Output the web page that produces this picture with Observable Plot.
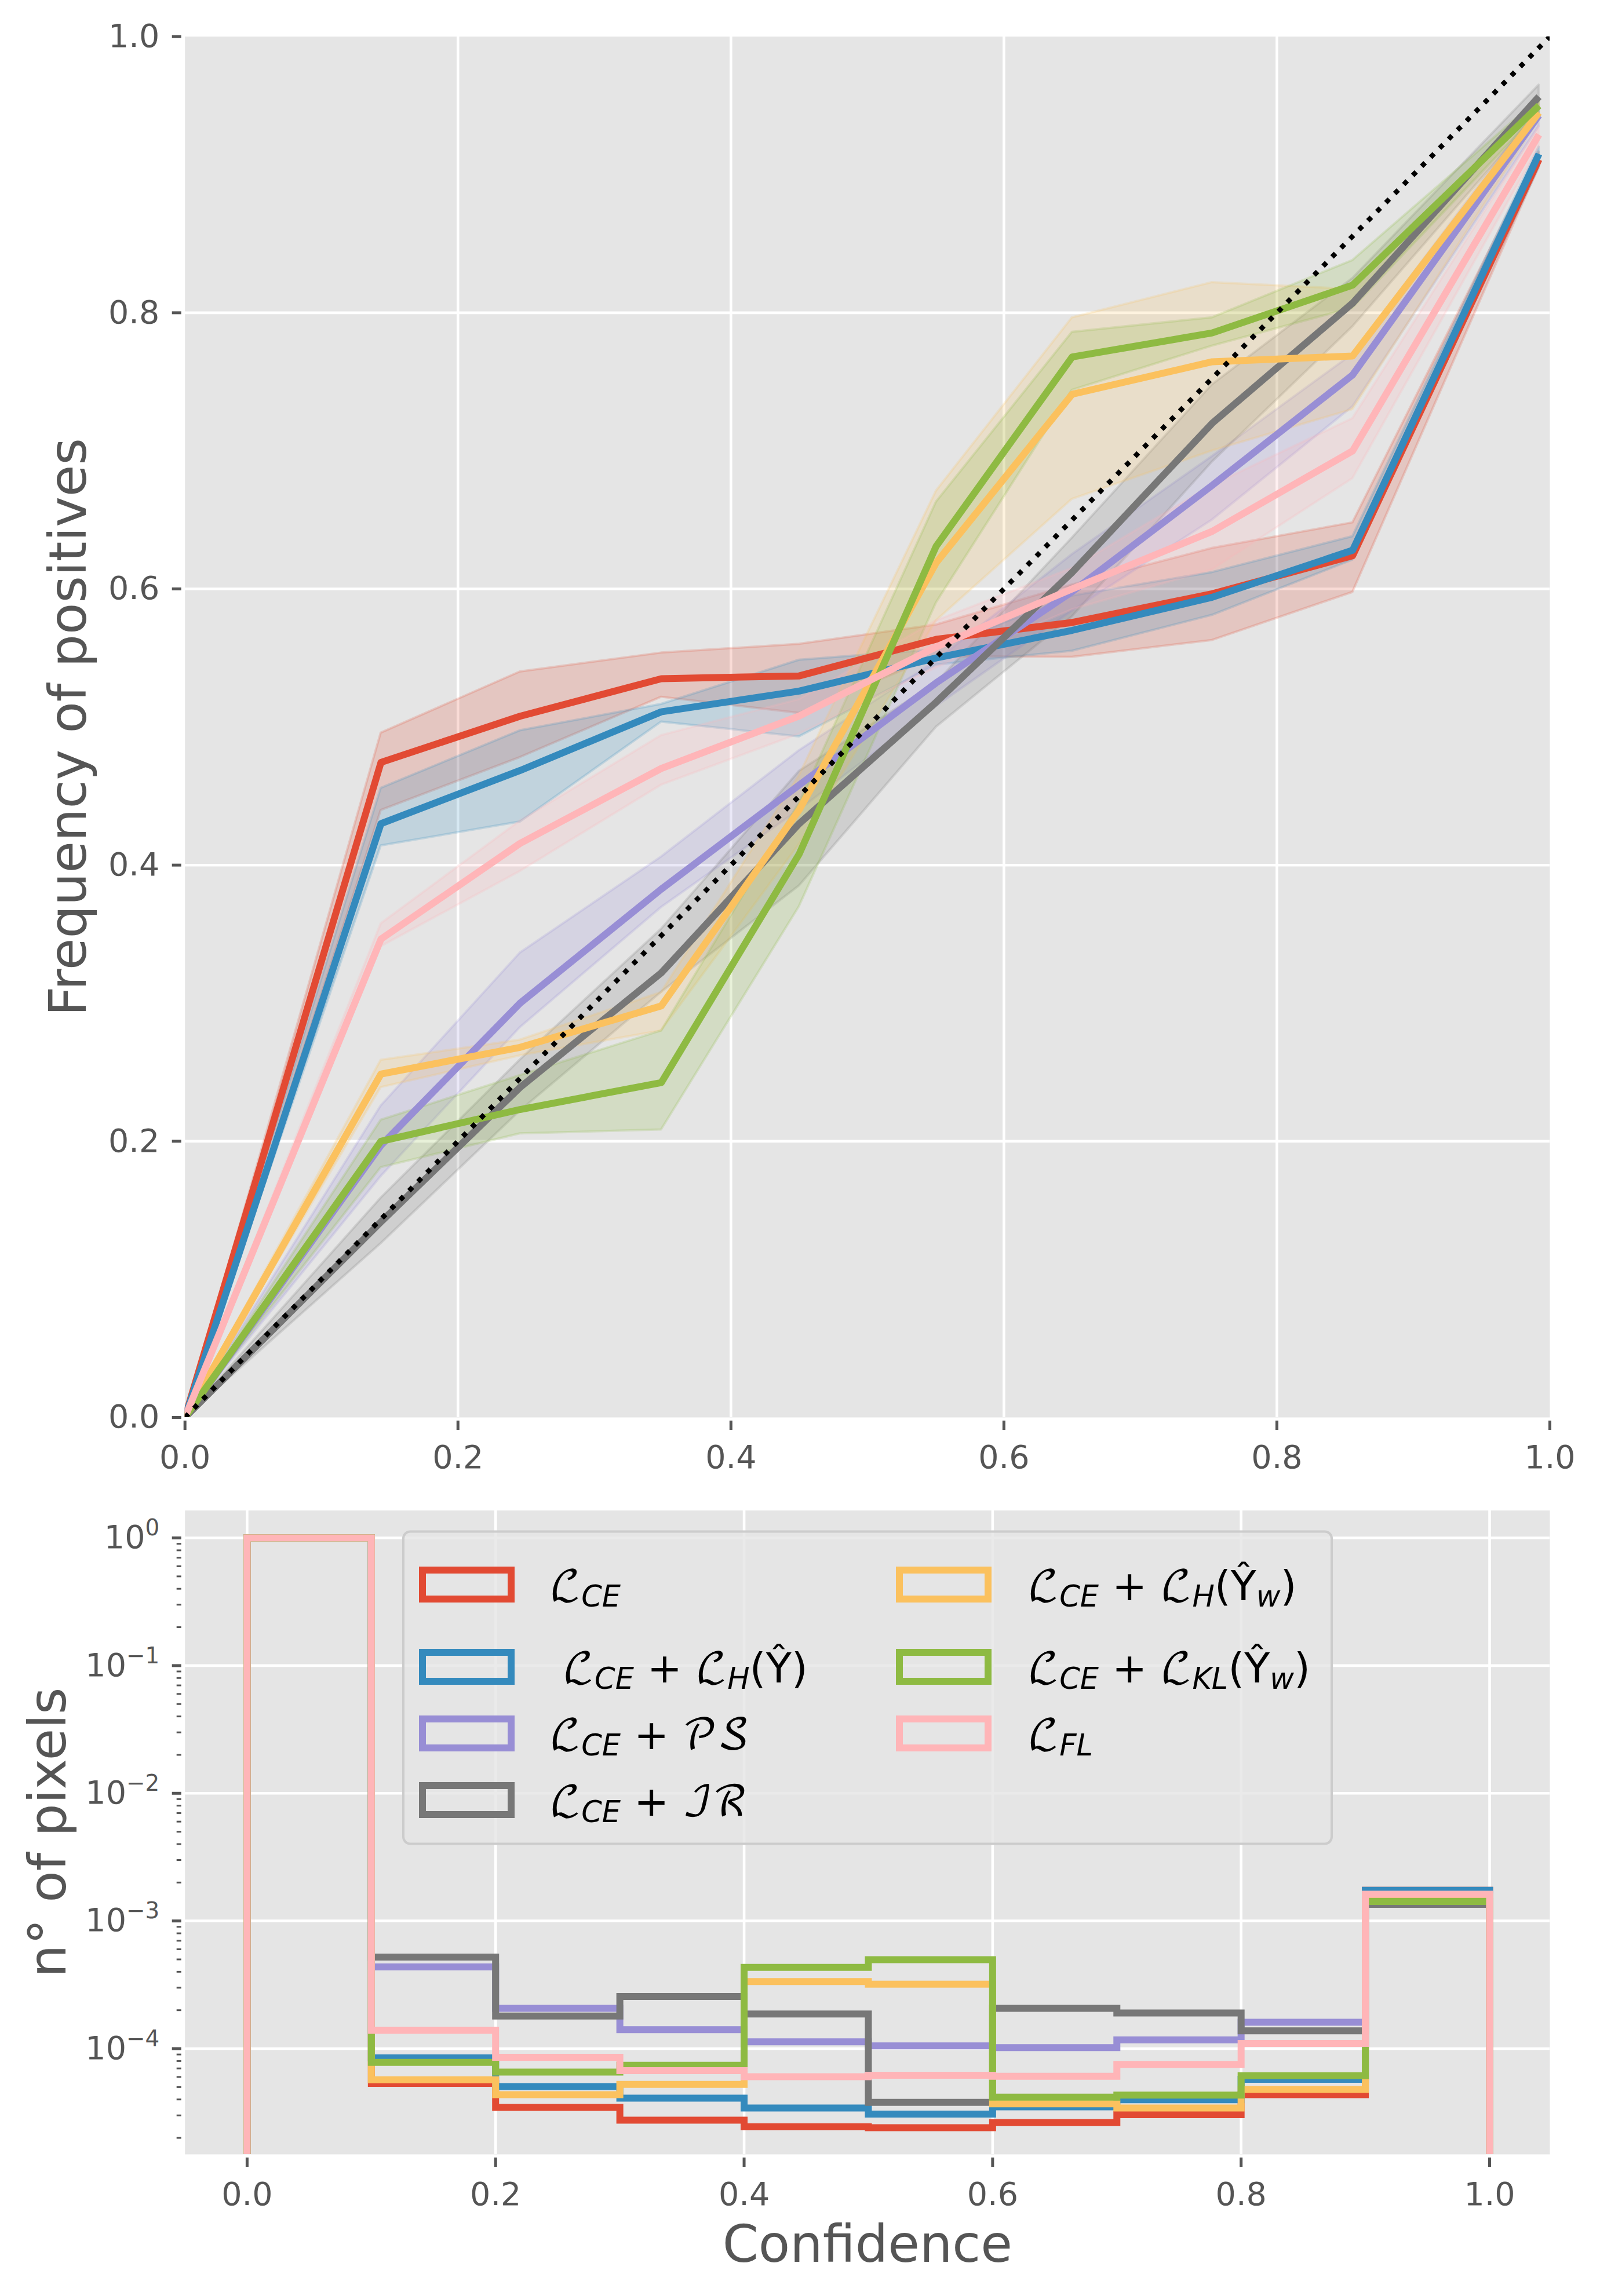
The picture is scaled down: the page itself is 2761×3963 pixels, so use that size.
<!DOCTYPE html>
<html>
<head>
<meta charset="utf-8">
<script src="https://cdn.jsdelivr.net/npm/d3@7"></script>
<script src="https://cdn.jsdelivr.net/npm/@observablehq/plot@0.6"></script>
<style>
html,body{margin:0;padding:0;background:#fff;}
#chart{position:relative;width:2761px;height:3963px;font-family:"DejaVu Sans",sans-serif;}
#chart svg{display:block;}
#legend{position:absolute;left:0;top:0;pointer-events:none;}
</style>
</head>
<body>
<div id="chart"></div>
<script>
// ---------- Reliability diagram ----------
const confidence = [0, 0.1436, 0.2455, 0.349, 0.45, 0.5504, 0.65, 0.7526, 0.8555, 0.992];
const names = ["CE","CE+H","CE+PS","CE+IR","CE+Hw","CE+KLw","FL"];
const colors = ["#E24A33","#348ABD","#988ED5","#777777","#FBC15E","#8EBA42","#FFB5B8"];

const meanCE   = [0, 0.4744, 0.5078, 0.535, 0.537, 0.5635, 0.5757, 0.5965, 0.624, 0.911];
const meanH    = [0, 0.43, 0.4685, 0.511, 0.526, 0.55, 0.57, 0.594, 0.628, 0.915];
const meanPS   = [0, 0.197, 0.3, 0.3826, 0.458, 0.532, 0.598, 0.675, 0.755, 0.943];
const meanIR   = [0, 0.1416, 0.239, 0.322, 0.43, 0.518, 0.612, 0.72, 0.807, 0.9565];
const meanHw   = [0, 0.2487, 0.268, 0.298, 0.44, 0.619, 0.741, 0.7645, 0.7687, 0.945];
const meanKLw  = [0, 0.2, 0.223, 0.2425, 0.408, 0.631, 0.768, 0.7854, 0.82, 0.95];
const meanFL   = [0, 0.3464, 0.4157, 0.47, 0.508, 0.558, 0.6, 0.6417, 0.7, 0.929];

const lowCE  = [0, 0.4397, 0.478, 0.5217, 0.51, 0.551, 0.5506, 0.5628, 0.5976, 0.906];
const highCE = [0, 0.4957, 0.54, 0.5537, 0.56, 0.574, 0.603, 0.6295, 0.648, 0.9165];
const lowH   = [0, 0.414, 0.4313, 0.5037, 0.493, 0.545, 0.555, 0.581, 0.621, 0.905];
const highH  = [0, 0.4557, 0.4974, 0.5165, 0.5485, 0.556, 0.595, 0.612, 0.638, 0.92];
const lowPS  = [0, 0.1746, 0.2824, 0.3694, 0.44, 0.515, 0.584, 0.65, 0.732, 0.935];
const highPS = [0, 0.2257, 0.3364, 0.406, 0.483, 0.548, 0.625, 0.696, 0.77, 0.95];
const lowIR  = [0, 0.126, 0.222, 0.308, 0.385, 0.5, 0.58, 0.692, 0.79, 0.945];
const highIR = [0, 0.159, 0.259, 0.3537, 0.468, 0.532, 0.637, 0.748, 0.825, 0.965];
const lowHw  = [0, 0.239, 0.262, 0.28, 0.415, 0.577, 0.665, 0.7, 0.73, 0.94];
const highHw = [0, 0.2588, 0.2734, 0.3078, 0.465, 0.671, 0.7965, 0.822, 0.817, 0.955];
const lowKLw = [0, 0.181, 0.2055, 0.2083, 0.37, 0.59, 0.744, 0.776, 0.8035, 0.945];
const highKLw= [0, 0.2154, 0.2477, 0.28, 0.445, 0.663, 0.786, 0.7965, 0.838, 0.955];
const lowFL  = [0, 0.341, 0.3955, 0.458, 0.495, 0.543, 0.585, 0.614, 0.68, 0.92];
const highFL = [0, 0.3576, 0.432, 0.4939, 0.52, 0.577, 0.615, 0.675, 0.7235, 0.935];

const diagonal = [0, 1];

// ---------- Histogram of confidence ----------
const binEdges = [0, 0, 0.1, 0.2, 0.3, 0.4, 0.5, 0.6, 0.7, 0.8, 0.9, 1];
const histCE  = [1, 5.34e-5, 3.46e-5, 2.75e-5, 2.44e-5, 2.4e-5, 2.63e-5, 3.04e-5, 4.36e-5, 1.74e-3];
const histH   = [1, 8.47e-5, 5.05e-5, 4.09e-5, 3.43e-5, 3.07e-5, 3.5e-5, 3.98e-5, 5.75e-5, 1.74e-3];
const histPS  = [1, 4.37e-4, 2.07e-4, 1.41e-4, 1.13e-4, 1.05e-4, 1.02e-4, 1.17e-4, 1.61e-4, 1.55e-3];
const histIR  = [1, 5.21e-4, 1.8e-4, 2.56e-4, 1.87e-4, 3.8e-5, 2.07e-4, 1.9e-4, 1.38e-4, 1.35e-3];
const histHw  = [1, 5.7e-5, 4.36e-5, 5.25e-5, 3.35e-4, 3.2e-4, 3.7e-5, 3.43e-5, 4.79e-5, 1.55e-3];
const histKLw = [1, 7.8e-5, 6.55e-5, 7.4e-5, 4.33e-4, 4.97e-4, 4.17e-5, 4.32e-5, 6.14e-5, 1.42e-3];
const histFL  = [1, 1.39e-4, 8.55e-5, 6.73e-5, 6.03e-5, 6.19e-5, 6.08e-5, 7.52e-5, 1.1e-4, 1.62e-3];
const histFloor = 1e-6;

const linearTicks = [0, 0.2, 0.4, 0.6, 0.8, 1];
const innerTicks = [0.2, 0.4, 0.6, 0.8];
const logTicks = [1, 1e-1, 1e-2, 1e-3, 1e-4];
const logLabels = ["10⁰", "10⁻¹", "10⁻²", "10⁻³", "10⁻⁴"];
const logExponents = ["0", "−1", "−2", "−3", "−4"];
const logMinor = [1e-1, 1e-2, 1e-3, 1e-4, 1e-5].flatMap(d => [2,3,4,5,6,7,8,9].map(k => +(k * d).toPrecision(3)));

const means = [meanCE, meanH, meanPS, meanIR, meanHw, meanKLw, meanFL];
const lows  = [lowCE, lowH, lowPS, lowIR, lowHw, lowKLw, lowFL];
const highs = [highCE, highH, highPS, highIR, highHw, highKLw, highFL];
const hists = [histCE, histH, histPS, histIR, histHw, histKLw, histFL];

// ---------- Styles ----------
const FONT = '"DejaVu Sans", sans-serif';
const INK = "#555555", PANEL = "#E5E5E5";
const WIDTH = 2761, TOP_H = 2590, BOTTOM_H = 1373;
const L = 318.7, R = WIDTH - 2674;
const tickFont = 55.5, labelFont = 89, lineW = 12, gridW = 4.6;

const axisCommon = {label: null, color: INK, strokeWidth: 5, tickSize: 16, fontSize: tickFont};
const fmt = d3.format(".1f");

const topTable = means.map((m, s) => confidence.map((x, i) => ({x, y: m[i], lo: lows[s][i], hi: highs[s][i]})));

const topPlot = Plot.plot({
  width: WIDTH, height: TOP_H,
  marginLeft: L, marginRight: R, marginTop: 62.7, marginBottom: TOP_H - 2446,
  style: {fontFamily: FONT, background: "transparent", overflow: "visible"},
  x: {domain: [0, 1]}, y: {domain: [0, 1]},
  marks: [
    Plot.frame({fill: PANEL, stroke: "none"}),
    Plot.gridX(innerTicks, {stroke: "white", strokeOpacity: 1, strokeWidth: gridW}),
    Plot.gridY(innerTicks, {stroke: "white", strokeOpacity: 1, strokeWidth: gridW}),
    ...topTable.map((rows, s) => Plot.areaY(rows, {
      x: "x", y1: "lo", y2: "hi", fill: colors[s], fillOpacity: 0.2,
      stroke: colors[s], strokeOpacity: 0.2, strokeWidth: 4, clip: true
    })),
    ...topTable.map((rows, s) => Plot.line(rows, {
      x: "x", y: "y", stroke: colors[s], strokeWidth: lineW,
      strokeLinecap: "butt", strokeLinejoin: "round", clip: true
    })),
    Plot.line(diagonal, {x: d => d, y: d => d, stroke: "black", strokeWidth: 8.5,
      strokeDasharray: "8.5 13.5", strokeLinecap: "butt", clip: true}),
    Plot.axisX(linearTicks, {...axisCommon, tickFormat: fmt, tickPadding: 26, dy: 6}),
    Plot.axisY(linearTicks, {...axisCommon, tickFormat: fmt, tickPadding: 22, dx: -6}),
    Plot.text(["Frequency of positives"], {
      frameAnchor: "left", rotate: -90, dx: 147 - L, lineAnchor: "bottom",
      fontSize: labelFont, fill: INK, textAnchor: "middle"
    })
  ]
});

const histTable = hists.map(v => {
  const ys = [histFloor, ...v, histFloor];
  return binEdges.map((x, i) => ({x, y: ys[i]}));
});

const bottomPlot = Plot.plot({
  width: WIDTH, height: BOTTOM_H,
  marginLeft: L, marginRight: R, marginTop: 16.7, marginBottom: 245,
  style: {fontFamily: FONT, background: "transparent", overflow: "visible"},
  x: {domain: [-0.05, 1.0485]},
  y: {type: "log", domain: [1.486e-5, 1.64]},
  marks: [
    Plot.frame({fill: PANEL, stroke: "none"}),
    Plot.gridX(linearTicks, {stroke: "white", strokeOpacity: 1, strokeWidth: gridW}),
    Plot.gridY(logTicks, {stroke: "white", strokeOpacity: 1, strokeWidth: gridW}),
    ...histTable.map((rows, s) => Plot.line(rows, {
      x: "x", y: "y", stroke: colors[s], strokeWidth: lineW, curve: "step-after",
      strokeLinecap: "butt", strokeLinejoin: "miter", strokeMiterlimit: 10, clip: true
    })),
    Plot.axisX(linearTicks, {...axisCommon, tickFormat: fmt, tickPadding: 26, dy: 6}),
    Plot.axisY(logTicks, {...axisCommon, tickFormat: d => logLabels[logTicks.indexOf(d)], tickPadding: 22, dx: -6}),
    Plot.axisY(logMinor.filter(d => d >= 1.486e-5 && d <= 1.64), {label: null, color: INK, strokeWidth: 3, tickSize: 8, tickFormat: () => "", dx: -6}),
    Plot.text(["n° of pixels"], {
      frameAnchor: "left", rotate: -90, dx: 112 - L, lineAnchor: "bottom",
      fontSize: labelFont, fill: INK, textAnchor: "middle"
    }),
    Plot.text(["Confidence"], {
      frameAnchor: "bottom", dy: 3903 - 3718, lineAnchor: "bottom",
      fontSize: labelFont, fill: INK, textAnchor: "middle"
    })
  ]
});

// Exponents of the log axis as raised, smaller digits, as in the reference.
d3.select(bottomPlot).selectAll("text").each(function() {
  const el = d3.select(this);
  const spans = el.selectAll("tspan");
  const host = spans.empty() ? el : d3.select(spans.node());
  const k = logLabels.indexOf(host.text());
  if (k < 0) return;
  host.text("10");
  host.append("tspan").attr("font-size", tickFont * 0.7).attr("dy", -22).text(logExponents[k]);
});

const chart = document.getElementById("chart");
chart.appendChild(topPlot);
chart.appendChild(bottomPlot);

// ---------- Legend (overlay on the lower panel) ----------
const MATH = '"DejaVu Math TeX Gyre","DejaVu Sans","DejaVu Serif",sans-serif';
const SANS = '"DejaVu Sans",sans-serif';
const L_ = "ℒ";
// segment kinds: m = script letters, s = subscript, t = upright text
const legendLabels = [
  [[L_,"m"],["CE","s"]],
  [["\u00A0"+L_,"m"],["CE","s"],[" + ","t"],[L_,"m"],["H","s"],["(Ŷ)","t"]],
  [[L_,"m"],["CE","s"],[" + ","t"],["𝒫𝒮","m"]],
  [[L_,"m"],["CE","s"],[" + ","t"],["ℐℛ","m"]],
  [[L_,"m"],["CE","s"],[" + ","t"],[L_,"m"],["H","s"],["(Ŷ","t"],["w","s"],[")","t"]],
  [[L_,"m"],["CE","s"],[" + ","t"],[L_,"m"],["KL","s"],["(Ŷ","t"],["w","s"],[")","t"]],
  [[L_,"m"],["FL","s"]]
];
const rowTop = [2705, 2847, 2962, 3077];
const swH = 60, swW = 165;
const leg = d3.select(chart).append("svg").attr("id","legend").attr("width",WIDTH).attr("height",3963);
leg.append("rect").attr("x",696).attr("y",2643.5).attr("width",2298-696).attr("height",3182.5-2643.5)
  .attr("rx",12).attr("fill",PANEL).attr("fill-opacity",0.8).attr("stroke","#CCCCCC").attr("stroke-width",4);
legendLabels.forEach((segs, i) => {
  const col = i < 4 ? 0 : 1, row = i < 4 ? i : i - 4;
  const sx = col ? 1546 : 723, y = rowTop[row];
  leg.append("rect").attr("x",sx+6).attr("y",y+5).attr("width",swW-12).attr("height",swH-10)
    .attr("fill","none").attr("stroke",colors[i]).attr("stroke-width",12);
  const t = leg.append("text").attr("x", col ? 1773 : 948).attr("y", y + 57)
    .attr("font-size",72).attr("fill","black").style("white-space","pre");
  let sub = false;
  segs.forEach(([txt, kind]) => {
    const s = kind === "s";
    const ts = t.append("tspan").text(txt).attr("font-family", kind === "m" ? MATH : SANS);
    if (s) ts.attr("font-size",51).attr("font-style","italic");
    if (s !== sub) ts.attr("dy", s ? 11 : -11);
    sub = s;
  });
});
</script>
</body>
</html>
